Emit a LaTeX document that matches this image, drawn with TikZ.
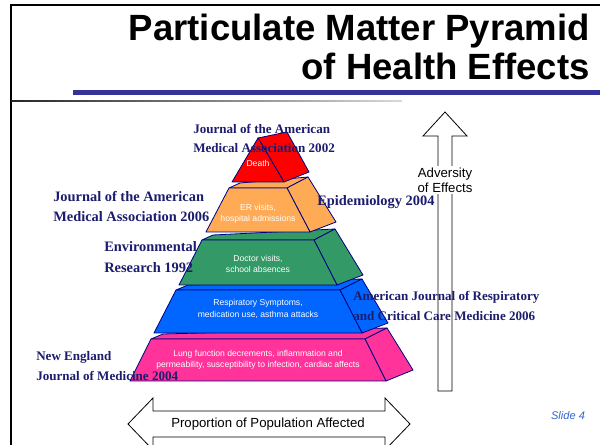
\documentclass[tikz,border=0pt]{standalone}
\usepackage{fontspec}
\setmainfont{Liberation Sans}
\newfontfamily\journalfont{Liberation Serif}
\usepackage{tikz}

\tikzset{
  face/.style={draw={rgb, 255:red, 0; green, 0; blue, 128 }, line width=0.6pt, line join=round},
  layer text/.style={inner sep=0.75pt, align=center, color=white, font=\fontsize{6.45}{8.6}\selectfont},
  journal/.style={anchor=west, inner sep=0.75pt, align=left, color={rgb, 255:red, 28; green, 28; blue, 110 }, font=\journalfont\bfseries\fontsize{9.8}{14.4}\selectfont},
  big journal/.style={journal, font=\journalfont\bfseries\fontsize{10.8}{15}\selectfont},
  hollow arrow/.style={draw=black, fill=white, line width=0.6pt},
}

\begin{document}
\begin{tikzpicture}[x=0.75pt,y=0.75pt,yscale=-1,xscale=1]
\path[use as bounding box] (0,0) rectangle (600,445);

%Shape: Slide frame
\draw [line width=1.9pt] (11,445) -- (11,5) -- (600,5) ;
%Shape: Title bar
\fill [fill={rgb, 255:red, 51; green, 51; blue, 153 }] (73,90) rectangle (600,95) ;
%Shape: Rule below title
\shade [left color=black!85, middle color=black!50, right color=black!15] (11,100.4) rectangle (402,101.8) ;

% Text Node
\draw (590,14) node (title) [anchor=north east][inner sep=0pt] [font=\bfseries\fontsize{27.4}{29.25}\selectfont] [align=right] {Particulate Matter Pyramid\\of Health Effects};

%Shape: Up Arrow
\draw [hollow arrow] (438,391) -- (438,136) -- (423,136) -- (445,112) -- (467,136) -- (452,136) -- (452,391) -- cycle ;
%Shape: Left Right Arrow
\draw [hollow arrow] (128,424) -- (153,398) -- (153,411) -- (385,411) -- (385,398) -- (410,424) -- (385,450) -- (385,437) -- (153,437) -- (153,450) -- cycle ;

%Shape: Pink layer
\draw [face, fill={rgb, 255:red, 255; green, 51; blue, 153 }] (163,334) -- (387,328) -- (365,339) -- (151,339) -- cycle ;
\draw [face, fill={rgb, 255:red, 255; green, 51; blue, 153 }] (365,339) -- (387,328) -- (413,370) -- (386,381) -- cycle ;
\draw [face, fill={rgb, 255:red, 255; green, 51; blue, 153 }] (151,339) -- (365,339) -- (386,381) -- (130,381) -- cycle ;
%Shape: Blue layer
\draw [face, fill={rgb, 255:red, 0; green, 102; blue, 255 }] (188,285) -- (362,279) -- (340,290) -- (176,290) -- cycle ;
\draw [face, fill={rgb, 255:red, 0; green, 102; blue, 255 }] (340,290) -- (362,279) -- (388,323) -- (362,333) -- cycle ;
\draw [face, fill={rgb, 255:red, 0; green, 102; blue, 255 }] (176,290) -- (340,290) -- (362,333) -- (154,333) -- cycle ;
%Shape: Green layer
\draw [face, fill={rgb, 255:red, 51; green, 153; blue, 102 }] (213,235) -- (335,229) -- (314,240) -- (202,240) -- cycle ;
\draw [face, fill={rgb, 255:red, 51; green, 153; blue, 102 }] (314,240) -- (335,229) -- (363,275) -- (337,285) -- cycle ;
\draw [face, fill={rgb, 255:red, 51; green, 153; blue, 102 }] (202,240) -- (314,240) -- (337,285) -- (179,285) -- cycle ;
%Shape: Orange layer
\draw [face, fill={rgb, 255:red, 255; green, 170; blue, 85 }] (240,183) -- (308,177) -- (287,188) -- (229,188) -- cycle ;
\draw [face, fill={rgb, 255:red, 255; green, 170; blue, 85 }] (287,188) -- (308,177) -- (336,222) -- (310,232) -- cycle ;
\draw [face, fill={rgb, 255:red, 255; green, 170; blue, 85 }] (229,188) -- (287,188) -- (310,232) -- (206,232) -- cycle ;
%Shape: Red layer
\draw [face, fill={rgb, 255:red, 255; green, 0; blue, 0 }] (258,138) -- (287,132) -- (309,172) -- (284,182) -- cycle ;
\draw [face, fill={rgb, 255:red, 255; green, 0; blue, 0 }] (258,138) -- (284,182) -- (232,182) -- cycle ;

% Text Node
\draw (258,163) node (death) [layer text] {Death};
% Text Node
\draw (258,214) node (er) [layer text] {ER visits,\\hospital admissions};
% Text Node
\draw (258,264) node (doctor) [layer text] {Doctor visits,\\school absences};
% Text Node
\draw (258,309) node (resp) [layer text] {Respiratory Symptoms,\\medication use, asthma attacks};
% Text Node
\draw (258,360) node (lung) [layer text] {Lung function decrements, inflammation and\\permeability, susceptibility to infection, cardiac affects};

% Text Node
\draw (192,138.5) node (jama02) [journal] {Journal of the American\\Medical Association 2002};
% Text Node
\draw (52,206.5) node (jama06) [big journal] {Journal of the American\\Medical Association 2006};
% Text Node
\draw (316,202) node (epi04) [big journal] {Epidemiology 2004};
% Text Node
\draw (103,257.5) node (envres) [big journal, font=\journalfont\bfseries\fontsize{10.8}{15.75}\selectfont] {Environmental\\Research 1992};
% Text Node
\draw (352,306) node (ajrccm) [journal] {American Journal of Respiratory\\and Critical Care Medicine 2006};
% Text Node
\draw (35,366) node (nejm) [journal] {New England\\Journal of Medicine 2004};

% Text Node
\draw (445,180) node (adversity) [fill=white][inner sep=1.5pt] [font=\fontsize{9.9}{11.25}\selectfont] [align=center] {Adversity\\of Effects};
% Text Node
\draw (268,424) node (proportion) [inner sep=0.75pt] [font=\fontsize{9.9}{11.25}\selectfont] {Proportion of Population Affected};
% Text Node
\draw (568,416) node (slide) [inner sep=0.75pt] [font=\itshape\fontsize{8.3}{10}\selectfont, color={rgb, 255:red, 51; green, 102; blue, 204 }] {Slide 4};

\end{tikzpicture}
\end{document}
